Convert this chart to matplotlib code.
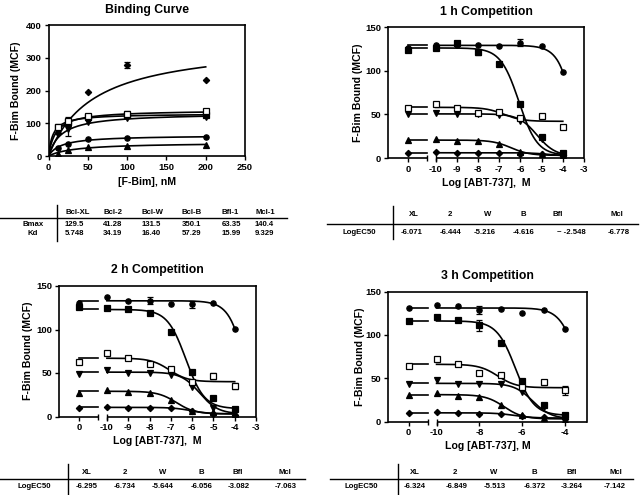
import numpy as np
import matplotlib
import matplotlib.pyplot as plt
from matplotlib.lines import Line2D

matplotlib.use("Agg")

plt.rcParams["font.family"] = ["Liberation Sans", "DejaVu Sans"]
plt.rcParams["font.weight"] = "bold"
plt.rcParams["axes.labelweight"] = "bold"
plt.rcParams["axes.titleweight"] = "bold"
plt.rcParams["axes.linewidth"] = 1.2
plt.rcParams["xtick.major.width"] = 1.0
plt.rcParams["ytick.major.width"] = 1.0
plt.rcParams["xtick.major.size"] = 3
plt.rcParams["ytick.major.size"] = 3
plt.rcParams["xtick.major.pad"] = 2
plt.rcParams["ytick.major.pad"] = 2

W, H = 642, 495

# ---------------- data ----------------
proteins = ["Bcl-XL", "Bcl-2", "Bcl-W", "Bcl-B", "Bfl-1", "Mcl-1"]
short_names = ["XL", "2", "W", "B", "Bfl", "Mcl"]

# binding curve
bind_conc = [12.5, 25, 50, 100, 200]
bind_vals = {
    "Bcl-XL": [88, 103, 120, 125, 124],
    "Bcl-2": [7, 17, 27, 30, 34],
    "Bcl-W": [72, 82, 105, 115, 120],
    "Bcl-B": [70, 95, 194, 277, 231],
    "Bfl-1": [25, 37, 51, 55, 57],
    "Mcl-1": [90, 108, 123, 128, 138],
}
bind_err = {
    "Bcl-XL": [0, 0, 8, 0, 0],
    "Bcl-2": [0, 0, 0, 0, 0],
    "Bcl-W": [0, 20, 0, 0, 0],
    "Bcl-B": [0, 0, 0, 9, 0],
    "Bfl-1": [0, 0, 0, 0, 0],
    "Mcl-1": [0, 10, 0, 10, 0],
}
bmax = [129.5, 41.28, 131.5, 350.1, 63.35, 140.4]
kd = [5.748, 34.19, 16.40, 57.29, 15.99, 9.329]
bmax_txt = ["129.5", "41.28", "131.5", "350.1", "63.35", "140.4"]
kd_txt = ["5.748", "34.19", "16.40", "57.29", "15.99", "9.329"]

# competition
log_conc = [-10, -9, -8, -7, -6, -5, -4]

ctrl_1h = [124, 21, 50.4, 5.7, 126, 57]
vals_1h = {
    "Bcl-XL": [126, 131.7, 121, 108, 62, 24, 5.7],
    "Bcl-2": [21.8, 20, 19.5, 16.4, 6.9, 4.2, 3],
    "Bcl-W": [51.5, 50.8, 50.8, 49.6, 42, 22, 5],
    "Bcl-B": [6.5, 5.7, 5.7, 5.7, 5, 4.2, 3.8],
    "Bfl-1": [129.8, 129, 129, 128, 132, 128, 98.5],
    "Mcl-1": [61.5, 57.6, 52, 52.7, 46, 47.7, 35],
}
err_1h = {"Bcl-XL": [0, 2, 3, 0, 0, 0, 0], "Bfl-1": [0, 0, 0, 0, 4, 0, 0]}
top_1h = [126, 20.5, 50.5, 6, 129, 58]
bottom_1h = [3, 3, 2, 2, -765, 42]
ec50_1h = [-6.071, -6.444, -5.216, -4.616, -2.548, -6.778]
ec50_1h_txt = ["-6.071", "-6.444", "-5.216", "-4.616", "~ -2.548", "-6.778"]

ctrl_2h = [126, 27.4, 49, 10, 131, 63]
vals_2h = {
    "Bcl-XL": [124.5, 124, 119, 97, 51.4, 21, 8.4],
    "Bcl-2": [30, 28.5, 27, 18.6, 6.5, 4.6, 2.7],
    "Bcl-W": [53, 50, 50, 48, 34, 10, 4.6],
    "Bcl-B": [11.4, 10.3, 10, 9.5, 6, 2.7, 1.5],
    "Bfl-1": [137.8, 133, 133, 129.4, 129, 130, 101],
    "Mcl-1": [73, 67.4, 60, 55, 40, 46.5, 35],
}
err_2h = {"Bfl-1": [0, 0, 4, 0, 4, 0, 0], "Mcl-1": [0, 0, 0, 0, 0, 3, 3]}
top_2h = [123, 29, 51, 10.5, 133, 67]
bottom_2h = [9, 3, 3, 3, -163, 40]
ec50_2h = [-6.295, -6.734, -5.644, -6.056, -3.082, -7.063]
ec50_2h_txt = ["-6.295", "-6.734", "-5.644", "-6.056", "-3.082", "-7.063"]

ctrl_3h = [116.5, 30.8, 43.5, 10, 131, 63.5]
vals_3h = {
    "Bcl-XL": [120.4, 117.3, 110.8, 90.4, 47.3, 18.5, 7],
    "Bcl-2": [32.7, 29.6, 28, 19.2, 7, 3.8, 2],
    "Bcl-W": [48, 43.5, 43.5, 42.7, 33.8, 17, 6],
    "Bcl-B": [11.5, 10, 8.8, 8.8, 6.2, 5, 3],
    "Bfl-1": [134.6, 132.7, 128.8, 130, 125, 129, 107],
    "Mcl-1": [72.3, 65.8, 55.8, 54.2, 39.6, 45.4, 35.8],
}
err_3h = {"Bcl-XL": [0, 0, 6, 0, 0, 0, 0], "Bfl-1": [0, 0, 5, 0, 0, 0, 0],
          "Mcl-1": [0, 0, 0, 0, 0, 3, 5]}
top_3h = [116, 31, 44, 10, 131, 66]
bottom_3h = [7, 3, 3, 4, -24, 39]
ec50_3h = [-6.324, -6.849, -5.513, -6.372, -3.264, -7.142]
ec50_3h_txt = ["-6.324", "-6.849", "-5.513", "-6.372", "-3.264", "-7.142"]

# ---------------- style ----------------
MARKERS = {
    "Bcl-XL": dict(marker="s", mfc="black"),
    "Bcl-2": dict(marker="^", mfc="black"),
    "Bcl-W": dict(marker="v", mfc="black"),
    "Bcl-B": dict(marker="D", mfc="black", ms=3.2),
    "Bfl-1": dict(marker="o", mfc="black"),
    "Mcl-1": dict(marker="s", mfc="white"),
}
MS = 3.8
LW = 1.2
FS_TICK = 6.8
FS_LABEL = 7.6
FS_TITLE = 8.8
FS_TABLE = 5.6

ZERO_POS = -11.3
SEG_END = -10.4
XMIN, XMAX = -12.25, -3


def marker_args(name):
    args = dict(ls="none", color="black", mec="black", mew=0.9, ms=MS)
    args.update(MARKERS[name])
    return args


def frac(x0, y0, x1, y1):
    """pixel box -> figure fraction [left, bottom, width, height]"""
    return [x0 / W, 1 - y1 / H, (x1 - x0) / W, (y1 - y0) / H]


def style_axes(ax, title, xlabel, xlab_y, ylab_x):
    ax.set_title(title, fontsize=FS_TITLE, pad=9)
    ax.set_xlabel(xlabel, fontsize=FS_LABEL)
    ax.set_ylabel("F-Bim Bound (MCF)", fontsize=FS_LABEL)
    ax.xaxis.set_label_coords(0.5, xlab_y)
    ax.xaxis.label.set_va("center")
    ax.yaxis.set_label_coords(ylab_x, 0.5)
    ax.yaxis.label.set_va("center")
    ax.tick_params(labelsize=FS_TICK)
    for lab in ax.get_xticklabels() + ax.get_yticklabels():
        lab.set_fontweight("bold")


fig = plt.figure(figsize=(W / 100, H / 100), dpi=100)

# ---------------- binding curve ----------------
ax = fig.add_axes(frac(48.5, 25, 245, 156))
xs = np.linspace(0, 200, 200)
for i, name in enumerate(proteins):
    ax.plot(xs, bmax[i] * xs / (kd[i] + xs), color="black", lw=LW)
    e = bind_err[name]
    ax.errorbar(bind_conc, bind_vals[name], yerr=[v if v else np.nan for v in e],
                capsize=2, elinewidth=0.9, capthick=0.9, zorder=3, **marker_args(name))
ax.set_xlim(0, 250)
ax.set_ylim(0, 400)
ax.set_xticks([0, 50, 100, 150, 200, 250])
ax.set_yticks([0, 100, 200, 300, 400])
style_axes(ax, "Binding Curve", "[F-Bim], nM", -0.2, -0.165)


# ---------------- competition panels ----------------
def competition(box, title, xlabel, ctrl, vals, errs, top, bottom, ec50, xticks, ylab_x):
    ax = fig.add_axes(frac(*box))
    xs = np.linspace(-10, -4, 200)
    for i, name in enumerate(proteins):
        curve = bottom[i] + (top[i] - bottom[i]) / (1 + 10 ** (xs - ec50[i]))
        ax.plot(xs, curve, color="black", lw=LW)
        ax.plot([ZERO_POS, SEG_END], [top[i], top[i]], color="black", lw=LW)
        ax.plot([ZERO_POS], [ctrl[i]], zorder=3, **marker_args(name))
        e = errs.get(name, [0] * len(log_conc))
        ax.errorbar(log_conc, vals[name], yerr=[v if v else np.nan for v in e],
                    capsize=2, elinewidth=0.9, capthick=0.9, zorder=3, **marker_args(name))
    ax.set_xlim(XMIN, XMAX)
    ax.set_ylim(0, 150)
    ax.set_yticks([0, 50, 100, 150])
    ax.set_xticks([ZERO_POS] + xticks)
    ax.set_xticklabels(["0"] + [str(t) for t in xticks])
    # broken bottom axis
    ax.spines["bottom"].set_visible(False)
    tr = ax.get_xaxis_transform()
    for seg in ([XMIN, SEG_END], [-10, XMAX]):
        ax.plot(seg, [0, 0], color="black", lw=1.2, transform=tr, clip_on=False,
                solid_capstyle="butt")
    ax.plot([SEG_END, -10], [0, 0], ls="none", marker="|", ms=5, mew=1.0,
            color="black", transform=tr, clip_on=False)
    style_axes(ax, title, xlabel, -0.19, ylab_x)
    return ax


competition((388, 27, 584, 158), "1 h Competition", "Log [ABT-737],  M",
            ctrl_1h, vals_1h, err_1h, top_1h, bottom_1h, ec50_1h,
            [-10, -9, -8, -7, -6, -5, -4, -3], -0.153)
competition((59, 286, 256, 416.5), "2 h Competition", "Log [ABT-737],  M",
            ctrl_2h, vals_2h, err_2h, top_2h, bottom_2h, ec50_2h,
            [-10, -9, -8, -7, -6, -5, -4, -3], -0.157)
competition((388.3, 291.5, 586.7, 421.5), "3 h Competition", "Log [ABT-737], M",
            ctrl_3h, vals_3h, err_3h, top_3h, bottom_3h, ec50_3h,
            [-10, -8, -6, -4], -0.143)


# ---------------- tables ----------------
def line(x0, y0, x1, y1):
    fig.add_artist(Line2D([x0 / W, x1 / W], [1 - y0 / H, 1 - y1 / H],
                          color="black", lw=1.0))


def text(x, y, s, ha="center"):
    fig.text(x / W, 1 - y / H, s, ha=ha, va="center", fontsize=FS_TABLE,
             fontweight="bold")


# binding parameters
line(0, 218, 287, 218)
line(57, 205, 57, 241)
bind_cols = [65, 103, 142, 182, 222, 255]
for i, name in enumerate(proteins):
    text(bind_cols[i], 212.5, name, ha="left")
    text(bind_cols[i], 225, bmax_txt[i], ha="left")
    text(bind_cols[i], 234, kd_txt[i], ha="left")
text(33, 225, "Bmax")
text(33, 234, "Kd")


def ec50_table(x_line0, x_line1, x_div, x_lab, y_head, y_line, y_val, head_x, val_x, vals):
    line(x_line0, y_line, x_line1, y_line)
    line(x_div, y_head - 9, x_div, y_val + 7)
    text(x_lab, y_val, "LogEC50")
    for i, nm in enumerate(short_names):
        text(head_x[i], y_head, nm)
        text(val_x[i], y_val, vals[i])


ec50_table(327, 638, 392.7, 359, 215, 224, 232,
           [414, 450, 488, 523, 558, 617], [412, 451, 485, 524, 571, 619], ec50_1h_txt)
ec50_table(0, 305, 68, 34, 472.5, 478.5, 486.5,
           [87, 125, 163, 201, 238, 285], [87, 125, 163, 202, 239, 286], ec50_2h_txt)
ec50_table(330, 633, 397.7, 361.7, 472.5, 478.5, 486.5,
           [415, 455, 494, 534, 572, 616], [415, 457, 495, 535, 572, 615], ec50_3h_txt)

fig.savefig("out.png", dpi=100)
